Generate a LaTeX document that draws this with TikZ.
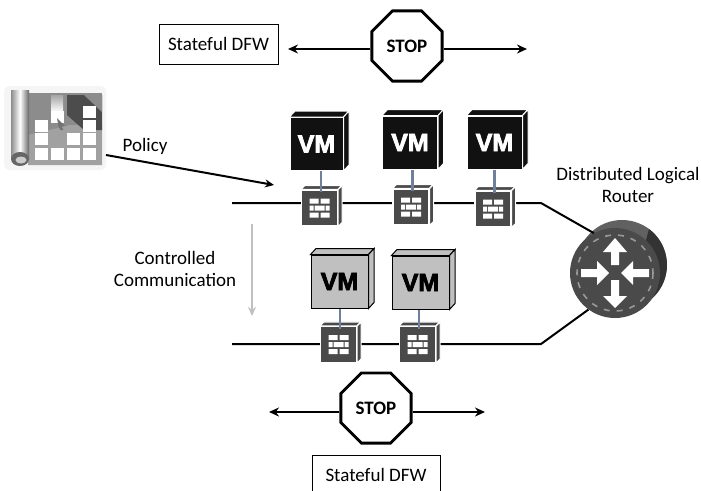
\documentclass[tikz,border=0pt]{standalone}
\usepackage{fontspec}
\setmainfont{Carlito}
\newfontfamily\vmfont[BoldFeatures={FakeBold=3}]{Liberation Sans}
\usetikzlibrary{positioning,arrows.meta,shapes.geometric}
\definecolor{fwgray}{HTML}{4A4A4A}
\definecolor{vmblack}{HTML}{111111}
\definecolor{vmlight}{HTML}{C0C0C0}
\definecolor{linkblue}{HTML}{71809A}
\tikzstyle{wire}=[black,line width=2pt]
\tikzstyle{stoparrow}=[black,line width=2pt,-{Stealth[length=10pt,width=9pt]}]
\tikzstyle{stopsign}=[regular polygon,regular polygon sides=8,draw=black,line width=2.8pt,fill=white,minimum size=76pt,inner sep=0pt,font=\fontsize{19}{22}\selectfont\bfseries]
\tikzstyle{dfwbox}=[draw=black,line width=1pt,fill=white,font=\fontsize{19}{22}\selectfont,inner sep=0pt,minimum height=40pt]
\tikzstyle{caption}=[align=center,font=\fontsize{19}{22}\selectfont]
\tikzstyle{vmfront}=[rectangle,draw=white,line width=1pt,minimum width=55pt,minimum height=53pt,inner sep=0pt,font=\vmfont\fontsize{25}{25}\selectfont\bfseries]
\tikzstyle{vmdark}=[vmfront,fill=vmblack,text=white]
\tikzstyle{vmpale}=[vmfront,draw=black,fill=vmlight,text=black,minimum width=57pt]
\tikzstyle{fwfront}=[rectangle,draw=white,line width=1.2pt,fill=fwgray,minimum size=36pt,inner sep=0pt]
\newcommand{\vmnode}[4]{% name, x, y, style
  \node[#4] (#1) at (#2,#3) {VM};
  \draw[#4] (#1.north west) -- ++(5.5,-6) -- ([shift={(5.5,-6)}]#1.north east) -- (#1.north east) -- cycle;
  \draw[#4] (#1.north east) -- ++(5.5,-6) -- ([shift={(5.5,-6)}]#1.south east) -- (#1.south east) -- cycle;
}
\newcommand{\fwnode}[3]{% name, x, y
  \node[fwfront] (#1) at (#2,#3) {};
  \draw[fwfront] (#1.north west) -- ++(4,-4) -- ([shift={(4,-4)}]#1.north east) -- (#1.north east) -- cycle;
  \draw[fwfront] (#1.north east) -- ++(4,-4) -- ([shift={(4,-4)}]#1.south east) -- (#1.south east) -- cycle;
  \begin{scope}[shift={(#1)}]
    \fill[white] (-10,-9.5) rectangle (-1,-4.5) (1,-9.5) rectangle (10,-4.5);
    \fill[white] (-10,-2.5) rectangle (-6,2.5) (-5,-2.5) rectangle (5,2.5) (6,-2.5) rectangle (10,2.5);
    \fill[white] (-10,4.5) rectangle (-1,9.5) (1,4.5) rectangle (10,9.5);
  \end{scope}
}
\begin{document}
\begin{tikzpicture}[x=1pt,y=-1pt,node distance=10pt]
    \clip (0,0) rectangle (701,490);
    \fill[white] (0,0) rectangle (701,490);
    % policy scroll
    \fill[gray!8,rounded corners=6pt] (4,86) rectangle (106,170);
    \fill[black!45] (28,93) rectangle (102,165);
    \fill[black!37] (28,165) -- (28,135) -- (70,125) -- (102,125) -- (102,165) -- cycle;
    \fill[black!70] (67,95) -- (102,95) -- (102,130) -- (84,130) -- (67,115) -- cycle;
    \fill[black!45] (84,95) -- (102,112) -- (102,95) -- cycle;
    \shade[top color=black!35,bottom color=white] (51,95) rectangle (63,112);
    \shade[left color=black!45,right color=black!60,middle color=white] (11,90) rectangle (29,159);
    \fill[black!60] (20,159) ellipse (9 and 7);
    \fill[black!20] (21,160) ellipse (5.5 and 3.5);
    \foreach \cx/\cy in {35/148,51/148,67/148,83/148,35/133,67/133,83/133,35/120,51/111,83/120,83/106}
      \fill[white] (\cx,\cy) rectangle ++(12.5,12);
    \fill[black!55] (57,118) -- (65,126) -- (61.5,126) -- (63.5,130) -- (60.5,130) -- (58.5,126.5) -- cycle;
    % stop signs
    \node[stopsign] (stopTop) at (407,46) {STOP};
    \coordinate (stopTopL) at (288,49);
    \coordinate (stopTopR) at (527,49);
    \node[dfwbox,minimum width=119pt] (dfwTop) at (218.5,44) {Stateful DFW};
    \node[stopsign] (stopBot) at (376,408) {STOP};
    \coordinate (stopBotL) at (269,412);
    \coordinate (stopBotR) at (485,412);
    \node[dfwbox,minimum width=128pt] (dfwBot) at (376,475) {Stateful DFW};
    \draw[stoparrow] (stopTop.west |- stopTopL) -- (stopTopL);
    \draw[stoparrow] (stopTop.east |- stopTopR) -- (stopTopR);
    \draw[stoparrow] (stopBot.west |- stopBotL) -- (stopBotL);
    \draw[stoparrow] (stopBot.east |- stopBotR) -- (stopBotR);
    % router
    \fill[black!62] (622,265) circle (45);
    \fill[black!80] (649,229) arc (-53:62:45) -- (627,310) -- cycle;
    \node[circle,fill=fwgray,minimum size=90pt,inner sep=0pt] (router) at (615,273) {};
    \draw[black!40,line width=1.6pt,dash pattern=on 6pt off 7pt] (router) circle (38);
    \foreach \a/\t/\b/\e in {0/-35/-21/-8,180/-35/-23/-7,90/-6/-18/-34,270/-6/-18/-34}
      \fill[white,shift={(router)},rotate=\a] (0,\t) -- (12,\b) -- (4,\b) -- (4,\e) -- (-4,\e) -- (-4,\b) -- (-12,\b) -- cycle;
    % network lines
    \coordinate (busTopL) at (232,203);
    \coordinate (busTopR) at (541,203);
    \coordinate (busBotL) at (232,344);
    \coordinate (busBotR) at (541,344);
    \draw[wire] (busTopL) -- (busTopR) -- (router.118);
    \draw[wire] (busBotL) -- (busBotR) -- (router.234);
    % virtual machines
    \vmnode{vmA}{316.5}{144}{vmdark,minimum width=53pt}
    \vmnode{vmB}{410}{142.5}{vmdark}
    \vmnode{vmC}{494.5}{142.5}{vmdark}
    \vmnode{vmD}{339.5}{281.5}{vmpale}
    \vmnode{vmE}{420.5}{282.5}{vmpale}
    \fwnode{fwA}{319.5}{208}
    \fwnode{fwB}{411}{207}
    \fwnode{fwC}{493}{209}
    \fwnode{fwD}{338.5}{344.5}
    \fwnode{fwE}{417.5}{344.5}
    \foreach \v/\f in {vmA/fwA,vmB/fwB,vmC/fwC,vmD/fwD,vmE/fwE}
      \draw[linkblue,line width=2.4pt,transform canvas={xshift=1.5pt}] (\f.north |- \v.south) -- ([yshift=-3pt]\f.north);
    % policy arrow and labels
    \coordinate (policyL) at (106,155);
    \coordinate (policyR) at (274,185);
    \draw[wire,-{Stealth[length=9pt,width=8pt]}] (policyL) -- (policyR);
    \node[caption] (policy) at (145,146) {Policy};
    \node[caption] (comm) at (175,269) {Controlled\\Communication};
    \coordinate (commT) at (252,224);
    \coordinate (commB) at (252,316);
    \draw[vmlight,line width=2pt,-{Stealth[length=9pt,width=8pt]}] (commT) -- (commB);
    \node[caption] (routerText) at (628,185) {Distributed Logical\\Router};
\end{tikzpicture}
\end{document}
